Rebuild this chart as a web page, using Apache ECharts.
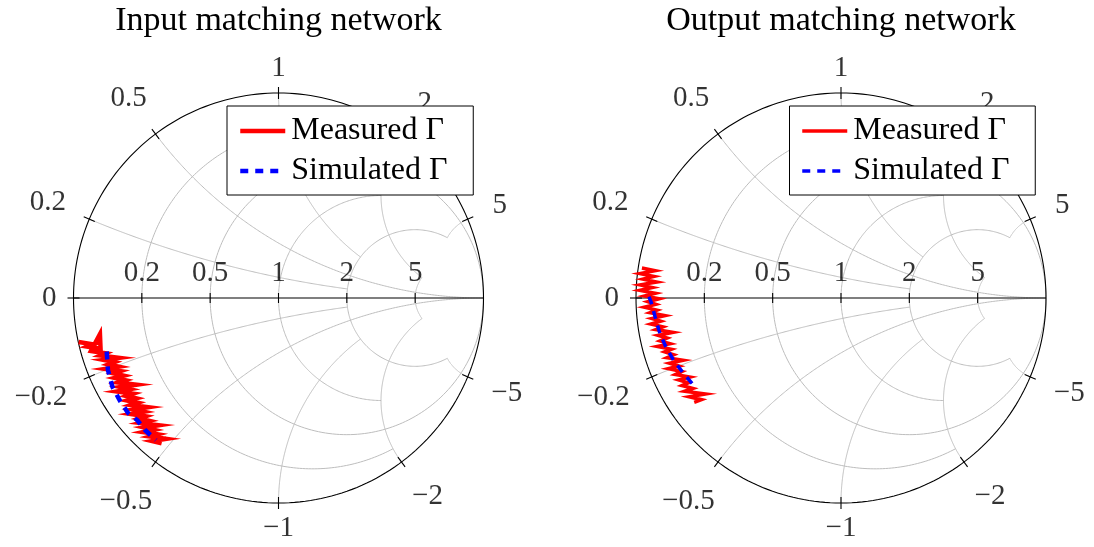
<!DOCTYPE html>
<html><head><meta charset="utf-8">
<script src="https://cdn.jsdelivr.net/npm/echarts@6/dist/echarts.min.js"></script>
<style>html,body{margin:0;padding:0;background:#fff}#c{width:1094px;height:547px}</style>
</head><body><div id="c"></div>
<script>
// ---------------- data ----------------
const titles = ['Input matching network', 'Output matching network'];
const seriesNames = ['Measured Γ', 'Simulated Γ'];
const resistanceTicks = [0.2, 0.5, 1, 2, 5];
const reactanceTicks = [0, 0.2, 0.5, 1, 2, 5, -0.2, -0.5, -1, -2, -5];
// grid line of value v stops where it meets the crossing line of this value
const gridStop = {0.2: 2, 0.5: Infinity, 1: 2, 2: 5, 5: 2};

// reflection coefficient Γ (real, imaginary)
const inputMeasuredRe = [-0.975,-0.905,-0.933,-0.868,-0.871,-0.915,-0.844,-0.869,-0.780,-0.854,-0.800,-0.829,-0.779,-0.846,-0.771,-0.804,-0.755,-0.798,-0.748,-0.782,-0.693,-0.771,-0.726,-0.788,-0.709,-0.741,-0.695,-0.738,-0.687,-0.720,-0.636,-0.707,-0.657,-0.719,-0.649,-0.681,-0.631,-0.674,-0.584,-0.655,-0.608,-0.660,-0.589,-0.627,-0.548,-0.615,-0.570];
const inputMeasuredIm = [-0.215,-0.226,-0.237,-0.248,-0.176,-0.259,-0.270,-0.281,-0.292,-0.302,-0.313,-0.324,-0.335,-0.346,-0.357,-0.368,-0.379,-0.390,-0.401,-0.412,-0.423,-0.434,-0.445,-0.456,-0.467,-0.478,-0.489,-0.500,-0.511,-0.522,-0.533,-0.544,-0.555,-0.566,-0.577,-0.588,-0.599,-0.610,-0.621,-0.632,-0.643,-0.654,-0.665,-0.676,-0.687,-0.698,-0.709];
const inputSimulatedRe = [-0.838,-0.832,-0.810,-0.773,-0.734,-0.690,-0.651,-0.598];
const inputSimulatedIm = [-0.261,-0.351,-0.434,-0.502,-0.561,-0.595,-0.644,-0.693];

const outputMeasuredRe = [-0.971,-0.907,-0.980,-0.912,-0.966,-0.898,-0.980,-0.920,-0.981,-0.906,-0.958,-0.887,-0.942,-0.904,-0.960,-0.898,-0.932,-0.859,-0.923,-0.880,-0.928,-0.869,-0.903,-0.820,-0.892,-0.848,-0.882,-0.833,-0.896,-0.827,-0.860,-0.816,-0.849,-0.770,-0.836,-0.790,-0.842,-0.777,-0.808,-0.737,-0.792,-0.745,-0.776,-0.723,-0.763,-0.661,-0.740,-0.681,-0.716];
const outputMeasuredIm = [0.146,0.133,0.119,0.105,0.092,0.078,0.064,0.051,0.037,0.023,0.010,-0.004,-0.018,-0.031,-0.045,-0.059,-0.072,-0.086,-0.100,-0.113,-0.127,-0.141,-0.154,-0.168,-0.182,-0.195,-0.209,-0.223,-0.236,-0.250,-0.263,-0.277,-0.291,-0.304,-0.318,-0.332,-0.345,-0.359,-0.373,-0.386,-0.400,-0.414,-0.427,-0.441,-0.455,-0.468,-0.482,-0.496,-0.509];
const outputSimulatedRe = [-0.937,-0.927,-0.907,-0.886,-0.859,-0.818,-0.769,-0.712];
const outputSimulatedIm = [0.006,-0.018,-0.091,-0.164,-0.229,-0.302,-0.367,-0.433];

// ---------------- layout / style ----------------
const R = 205, FS = 29, LFS = 32, TFS = 34, FONT = "'Liberation Serif', 'Times New Roman', serif";
const centers = [[278.5, 298], [841, 298]];
const measuredWidth = [4.5, 3.5], simulatedWidth = [4.5, 3.5];

const ctx = document.createElement('canvas').getContext('2d');
const tw = (t, s) => { ctx.font = (s || FS) + "px 'Liberation Serif'"; return ctx.measureText(t).width; };
const fmt = v => String(v).replace('-', '\u2212');
const zip = (a, b) => a.map((v, i) => [v, b[i]]);

function gam(r, x) { const d = (r + 1) * (r + 1) + x * x; return [(r * r + x * x - 1) / d, 2 * x / d]; }
function norm(a) { while (a < 0) a += 2 * Math.PI; while (a >= 2 * Math.PI) a -= 2 * Math.PI; return a; }
function rCircle(r, X) {
  const c = r / (1 + r), rho = 1 / (1 + r);
  let e = 0;
  if (isFinite(X)) { const p = gam(r, X); e = Math.atan2(p[1], p[0] - c); }
  const pts = [], N = 240;
  for (let i = 0; i <= N; i++) { const f = e + (2 * Math.PI - 2 * e) * i / N; pts.push([c + rho * Math.cos(f), rho * Math.sin(f)]); }
  return pts;
}
function xArc(x, Rmax) {
  const s = Math.sign(x), ax = Math.abs(x), cy = 1 / ax, rho = 1 / ax;
  const ang = p => norm(Math.atan2(p[1] - cy, p[0] - 1));
  const a0 = ang(gam(0, ax));
  let a1 = isFinite(Rmax) ? ang(gam(Rmax, ax)) : 1.5 * Math.PI;
  if (a1 < a0) a1 += 2 * Math.PI;
  const pts = [], N = 240;
  for (let i = 0; i <= N; i++) { const a = a0 + (a1 - a0) * i / N; pts.push([1 + rho * Math.cos(a), s * (cy + rho * Math.sin(a))]); }
  return pts;
}
// label box placed outward along the tick direction until it clears a ring around the chart
function outerOffset(p, text) {
  const dx = p[0], dy = -p[1];
  const wb = tw(text) / 2 + 3, hb = 11, target = R + 14 + 10 * Math.abs(2 * dx * dy);
  let lo = 0, hi = 150;
  for (let k = 0; k < 50; k++) {
    const m = (lo + hi) / 2, cx = (R + m) * dx, cyy = (R + m) * dy;
    const nx = Math.min(Math.max(0, cx - wb), cx + wb), ny = Math.min(Math.max(0, cyy - hb), cyy + hb);
    if (Math.hypot(nx, ny) < target) lo = m; else hi = m;
  }
  return [lo * dx, lo * dy];
}

const greyLines = [], blackLines = [];
resistanceTicks.forEach(r => greyLines.push(rCircle(r, gridStop[r])));
reactanceTicks.filter(x => x !== 0).forEach(x => greyLines.push(xArc(x, gridStop[Math.abs(x)])));
blackLines.push(rCircle(0, Infinity));
blackLines.push([[-1, 0], [1, 0]]);
const tk = 6 / R;
reactanceTicks.forEach(x => { const p = gam(0, x); blackLines.push([[p[0] * (1 - tk), p[1] * (1 - tk)], [p[0] * (1 + tk), p[1] * (1 + tk)]]); });
resistanceTicks.forEach(r => { const g = (r - 1) / (r + 1); blackLines.push([[g, -5 / R], [g, 5 / R]]); });

const labelData = [];
reactanceTicks.forEach(x => { const p = gam(0, x), t = fmt(x); labelData.push({ name: t, value: p, label: { offset: outerOffset(p, t) } }); });
resistanceTicks.forEach(r => labelData.push({ name: fmt(r), value: [(r - 1) / (r + 1), 0], label: { offset: [0, -25] } }));

const measured = [zip(inputMeasuredRe, inputMeasuredIm), zip(outputMeasuredRe, outputMeasuredIm)];
const simulated = [zip(inputSimulatedRe, inputSimulatedIm), zip(outputSimulatedRe, outputSimulatedIm)];

const series = [];
centers.forEach((c, i) => {
  series.push({ type: 'lines', coordinateSystem: 'cartesian2d', xAxisIndex: i, yAxisIndex: i, polyline: true, silent: true, z: 1,
    lineStyle: { color: '#bdbdbd', width: 1, opacity: 1 }, data: greyLines.map(l => ({ coords: l })) });
  series.push({ type: 'lines', coordinateSystem: 'cartesian2d', xAxisIndex: i, yAxisIndex: i, polyline: true, silent: true, z: 1.5,
    lineStyle: { color: '#000', width: 1.1, opacity: 1 }, data: blackLines.map(l => ({ coords: l })) });
  series.push({ type: 'scatter', xAxisIndex: i, yAxisIndex: i, symbolSize: 0, silent: true, z: 2,
    label: { show: true, position: 'inside', formatter: '{b}', color: '#000', fontSize: FS, fontFamily: FONT, align: 'center', verticalAlign: 'middle' },
    data: labelData });
  series.push({ type: 'line', name: seriesNames[0], xAxisIndex: i, yAxisIndex: i, data: measured[i], symbol: 'none', clip: false, z: 3,
    lineStyle: { color: '#ff0000', width: measuredWidth[i], join: 'miter', miterLimit: 10 }, itemStyle: { color: '#ff0000' } });
  series.push({ type: 'line', name: seriesNames[1], xAxisIndex: i, yAxisIndex: i, data: simulated[i], symbol: 'none', clip: false, z: 3.5,
    lineStyle: { color: '#0000ff', width: simulatedWidth[i], type: [8, 7], cap: 'butt' }, itemStyle: { color: '#0000ff' } });
});

const legTW = Math.max(...seriesNames.map(t => tw(t, LFS)));
const option = {
  animation: false,
  textStyle: { fontFamily: FONT },
  grid: centers.map(c => ({ left: c[0] - 1.1 * R, top: c[1] - 1.1 * R, width: 2.2 * R, height: 2.2 * R })),
  xAxis: centers.map((c, i) => ({ type: 'value', gridIndex: i, min: -1.1, max: 1.1, show: false })),
  yAxis: centers.map((c, i) => ({ type: 'value', gridIndex: i, min: -1.1, max: 1.1, show: false })),
  legend: centers.map((c, i) => ({
    orient: 'vertical', left: c[0] - 51.5, top: 106, z: 10,
    padding: [9, Math.max(4, 244 - 11 - 51 - legTW), 8, 11], itemGap: 8, itemWidth: 45, itemHeight: 1,
    backgroundColor: '#fff', borderColor: '#000', borderWidth: 1, borderRadius: 0,
    textStyle: { fontSize: LFS, fontFamily: FONT, color: '#000', lineHeight: 29, padding: [0, 0, 0, 1] },
    lineStyle: { width: measuredWidth[i] },
    data: seriesNames
  })),
  graphic: centers.map((c, i) => ({ type: 'text', x: c[0], y: 21, z: 10,
    style: { text: titles[i], fontSize: TFS, fontFamily: FONT, fill: '#000', align: 'center', verticalAlign: 'middle' } })),
  series
};
const chart = echarts.init(document.getElementById('c'), null, { renderer: 'canvas' });
chart.setOption(option);
</script></body></html>
